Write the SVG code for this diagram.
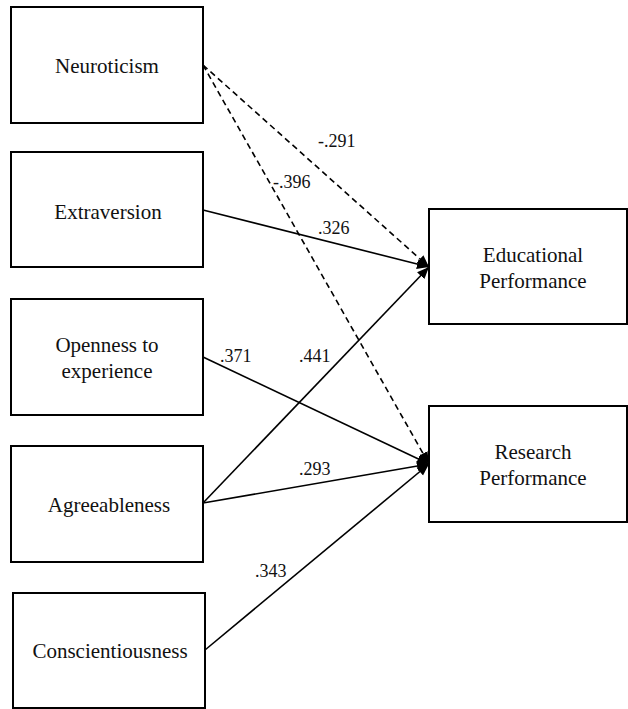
<svg xmlns="http://www.w3.org/2000/svg" width="628" height="709" viewBox="0 0 628 709">
<style>
.box{fill:#fff;stroke:#000;stroke-width:2}
.nt{font-family:"Liberation Serif","Times New Roman",serif;font-size:21px;fill:#111;text-anchor:middle}
.lb{font-family:"Liberation Serif","Times New Roman",serif;font-size:18px;fill:#111}
.ln{stroke:#000;stroke-width:1.6;fill:none}
.dash{stroke-dasharray:6 4}
</style>
<defs>
<marker id="ah" markerUnits="userSpaceOnUse" markerWidth="12" markerHeight="12" refX="10" refY="5" orient="auto" viewBox="0 0 10 10">
<path d="M0,0.8 L10,5 L0,9.2 Z" fill="#000"/>
</marker>
</defs>
<rect width="628" height="709" fill="#fff"/>
<g id="connectors">
<line class="ln dash" x1="203" y1="65" x2="429" y2="267" marker-end="url(#ah)"/>
<line class="ln dash" x1="203" y1="65" x2="429" y2="464" marker-end="url(#ah)"/>
<line class="ln" x1="203" y1="210" x2="429" y2="267" marker-end="url(#ah)"/>
<line class="ln" x1="203" y1="357" x2="429" y2="464" marker-end="url(#ah)"/>
<line class="ln" x1="203" y1="503" x2="429" y2="267" marker-end="url(#ah)"/>
<line class="ln" x1="203" y1="503" x2="429" y2="464" marker-end="url(#ah)"/>
<line class="ln" x1="205" y1="650" x2="429" y2="464" marker-end="url(#ah)"/>
<text class="lb" x="318" y="147">-.291</text>
<text class="lb" x="273" y="188">-.396</text>
<text class="lb" x="318" y="234">.326</text>
<text class="lb" x="220" y="362">.371</text>
<text class="lb" x="299" y="362">.441</text>
<text class="lb" x="299" y="475">.293</text>
<text class="lb" x="255" y="577">.343</text>
</g>
<g id="neuroticism"><rect class="box" x="11" y="7" width="192" height="116"/><text class="nt" x="107" y="73">Neuroticism</text></g>
<g id="extraversion"><rect class="box" x="11" y="152" width="192" height="115"/><text class="nt" x="108" y="219">Extraversion</text></g>
<g id="openness"><rect class="box" x="11" y="299" width="192" height="116"/><text class="nt" x="107" y="352">Openness to</text><text class="nt" x="107" y="378">experience</text></g>
<g id="agreeableness"><rect class="box" x="11" y="446" width="192" height="116"/><text class="nt" x="109" y="512">Agreeableness</text></g>
<g id="conscientiousness"><rect class="box" x="13" y="593" width="192" height="115"/><text class="nt" x="110" y="658">Conscientiousness</text></g>
<g id="educational"><rect class="box" x="429" y="209" width="198" height="115"/><text class="nt" x="533" y="262">Educational</text><text class="nt" x="533" y="288">Performance</text></g>
<g id="research"><rect class="box" x="429" y="406" width="198" height="116"/><text class="nt" x="533" y="459">Research</text><text class="nt" x="533" y="485">Performance</text></g>
</svg>
